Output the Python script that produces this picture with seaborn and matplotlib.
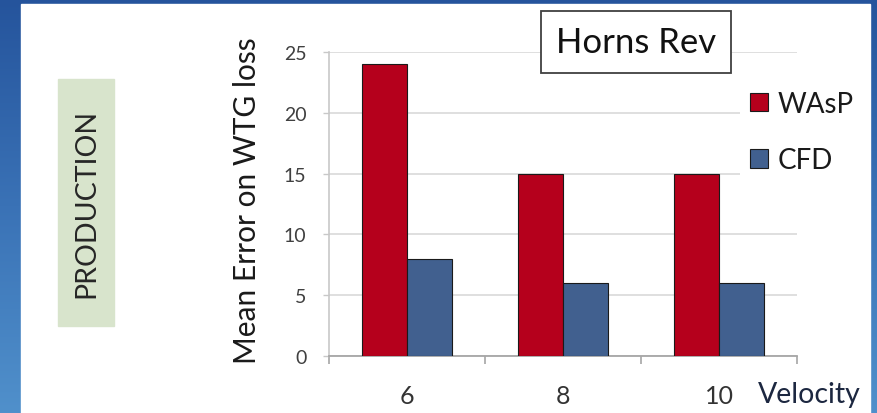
import numpy as np
import pandas as pd
import matplotlib
matplotlib.use("Agg")
import matplotlib.pyplot as plt
from matplotlib.patches import Rectangle
from matplotlib.colors import LinearSegmentedColormap
from matplotlib.ticker import FixedLocator
import seaborn as sns

# ---- data ----
velocities = ["6", "8", "10"]
wasp_error = [24, 15, 15]
cfd_error = [8, 6, 6]
series_names = ["WAsP", "CFD"]
y_ticks = [0, 5, 10, 15, 20, 25]

df = pd.DataFrame({
    "Velocity": velocities * 2,
    "Error": wasp_error + cfd_error,
    "Model": [series_names[0]] * 3 + [series_names[1]] * 3,
})

sns.set_theme(style="white")
plt.rcParams["font.family"] = ["Lato", "DejaVu Sans"]

W, H = 877, 414
fig = plt.figure(figsize=(W / 100, H / 100), dpi=100)

# background gradient (slide)
bg = fig.add_axes([0, 0, 1, 1], zorder=-10)
cmap = LinearSegmentedColormap.from_list("bgblue", ["#25549c", "#3a72b6", "#5090cb"])
grad = np.linspace(0, 1, 256).reshape(-1, 1)
bg.imshow(grad, aspect="auto", cmap=cmap, extent=[0, 1, 0, 1], origin="upper")
bg.set_xlim(0, 1); bg.set_ylim(0, 1)
bg.axis("off")
# white panel
bg.add_patch(Rectangle((21 / W, 0), (870 - 21) / W, 1 - 5 / H, color="white", zorder=1))
# green label box
bg.add_patch(Rectangle((58 / W, 1 - 327 / H), 56 / W, 247 / H, color="#d8e4cc", zorder=2))

ax = fig.add_axes([329 / W, 1 - 357 / H, (797 - 329) / W, 304 / H])
palette = {"WAsP": "#b5001c", "CFD": "#41608f"}
sns.barplot(data=df, x="Velocity", y="Error", hue="Model", order=velocities,
            hue_order=series_names, palette=palette, width=0.58, saturation=1,
            edgecolor="#1a1a1a", linewidth=0.8, ax=ax, legend=True, zorder=3)

ax.set_ylim(0, 25)
ax.set_xlim(-0.5, 2.5)
ax.set_yticks(y_ticks)
ax.yaxis.grid(True, color="#d9d9d9", linewidth=1.2, zorder=0)
ax.set_axisbelow(True)
ax.set_xlabel("")
ax.set_ylabel("")
for s in ["top", "right"]:
    ax.spines[s].set_visible(False)
ax.spines["left"].set_color("#c8c8c8")
ax.spines["left"].set_linewidth(1.2)
ax.spines["bottom"].set_color("#a6a6a6")
ax.spines["bottom"].set_linewidth(1.3)

ax.tick_params(axis="y", which="major", left=True, length=4.3, width=1.0, color="#c8c8c8",
               pad=12, labelsize=14, labelcolor="#404040")
ax.xaxis.set_minor_locator(FixedLocator([-0.5, 0.5, 1.5, 2.5]))
ax.tick_params(axis="x", which="minor", bottom=True, length=5.8, width=1.2, color="#a6a6a6")
ax.tick_params(axis="x", which="major", bottom=False, length=0, pad=20,
               labelsize=18, labelcolor="#333333")

# legend
handles, labels = ax.get_legend_handles_labels()
ax.legend(handles, labels, loc="upper left", bbox_to_anchor=(740 / W, 1 - 82 / H),
          bbox_transform=fig.transFigure, frameon=True, facecolor="white", edgecolor="none",
          framealpha=1, fancybox=False, fontsize=20, handlelength=0.65, handleheight=0.65,
          handletextpad=0.36, labelspacing=1.1, borderpad=0.35, borderaxespad=0)
for t in ax.get_legend().get_texts():
    t.set_color("#1a1a1a")

# title box
fig.text(636 / W, 1 - 43 / H, "Horns Rev", ha="center", va="center", fontsize=25,
         color="#111111",
         bbox=dict(boxstyle="square,pad=0.42", facecolor="white", edgecolor="#404040",
                   linewidth=1.3), zorder=10)

# y label
fig.text(247 / W, 1 - 201 / H, "Mean Error on WTG loss", rotation=90, ha="center",
         va="center", fontsize=21.5, color="#1a1a1a")
# x label
fig.text(758 / W, 1 - 395 / H, "Velocity", ha="left", va="center", fontsize=20.5,
         color="#1c2740")
# side label
fig.text(86 / W, 1 - 203 / H, "PRODUCTION", rotation=90, ha="center", va="center",
         fontsize=20.5, color="#262626", zorder=5)

fig.savefig("out.png", dpi=100)
